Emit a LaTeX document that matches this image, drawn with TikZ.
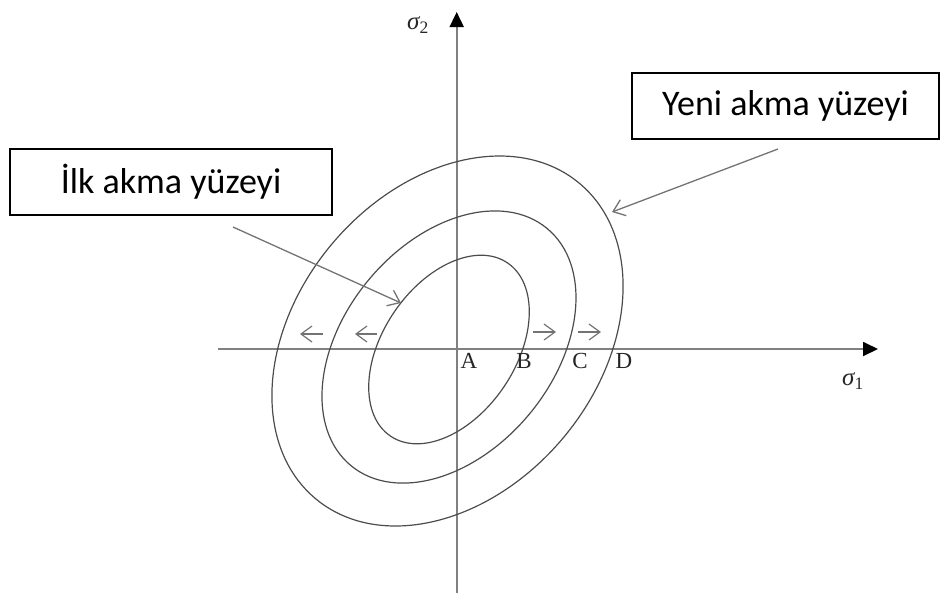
\documentclass[tikz,border=0pt]{standalone}
\usepackage{fontspec}
\setmainfont{Carlito}
\newfontfamily\tnr{Liberation Serif}
\usetikzlibrary{arrows.meta}
\begin{document}
\begin{tikzpicture}[x=1pt,y=-1pt,
  axisline/.style={draw=black!50, line width=1.8pt, -{Triangle[length=15pt,width=14pt,black]}},
  surface/.style={draw=black!70, line width=1.2pt},
  flow/.style={draw=black!55, line width=1.2pt, -{Straight Barb[length=11pt,width=16pt]}},
  callout/.style={draw=black!55, line width=1.3pt, -{Straight Barb[length=11pt,width=17pt]}},
  labelbox/.style={draw=black, line width=1.5pt, inner sep=0pt, minimum height=66pt, font=\fontsize{36}{40}\selectfont},
  pointlbl/.style={inner sep=0pt, text=black!85, font=\tnr\fontsize{23}{25}\selectfont},
  sigmalbl/.style={inner sep=0pt, text=black!85, font=\tnr\fontsize{25}{27}\selectfont}
]
\useasboundingbox (0,0) rectangle (941,598);

% axes
\coordinate (xs) at (218,349);
\coordinate (xe) at (878,349);
\coordinate (ys) at (456.7,593);
\coordinate (ye) at (456.7,12);
\draw[axisline] (xs) -- (xe);
\draw[axisline] (ys) -- (ye);
\node[sigmalbl] (s2) at (418,25) {\itshape σ\textsubscript{\upshape 2}};
\node[sigmalbl] (s1) at (853,381) {\itshape σ\textsubscript{\upshape 1}};

% yield surfaces
\coordinate (c3) at (447.5,341);
\coordinate (c2) at (449,347);
\coordinate (c1) at (449,349.5);
\draw[surface, rotate around={50:(c3)}] (c3) ellipse [x radius=205.6pt, y radius=150.9pt];
\draw[surface, rotate around={50.4:(c2)}] (c2) ellipse [x radius=153.9pt, y radius=104.7pt];
\draw[surface, rotate around={56:(c1)}] (c1) ellipse [x radius=104.5pt, y radius=66.4pt];

% points
\node[pointlbl] (A) at (469,361) {A};
\node[pointlbl] (B) at (524,361) {B};
\node[pointlbl] (C) at (580,361) {C};
\node[pointlbl] (D) at (624,361) {D};

% expansion arrows
\coordinate (l1s) at (323,334); \coordinate (l1e) at (300,334);
\coordinate (l2s) at (377,334); \coordinate (l2e) at (355,334);
\coordinate (r1s) at (533,332); \coordinate (r1e) at (556,332);
\coordinate (r2s) at (578,332); \coordinate (r2e) at (601,332);
\draw[flow] (l1s) -- (l1e);
\draw[flow] (l2s) -- (l2e);
\draw[flow] (r1s) -- (r1e);
\draw[flow] (r2s) -- (r2e);

% callouts
\node[labelbox, minimum width=322pt] (ilk) at (171,182) {İlk akma yüzeyi};
\node[labelbox, minimum width=307pt] (yeni) at (785.5,106) {Yeni akma yüzeyi};
\coordinate (ilkfrom) at (233,227);
\coordinate (ilkto) at (401,303);
\coordinate (yenifrom) at (778,149);
\coordinate (yenito) at (612,212);
\draw[callout] (ilkfrom) -- (ilkto);
\draw[callout] (yenifrom) -- (yenito);
\end{tikzpicture}
\end{document}
